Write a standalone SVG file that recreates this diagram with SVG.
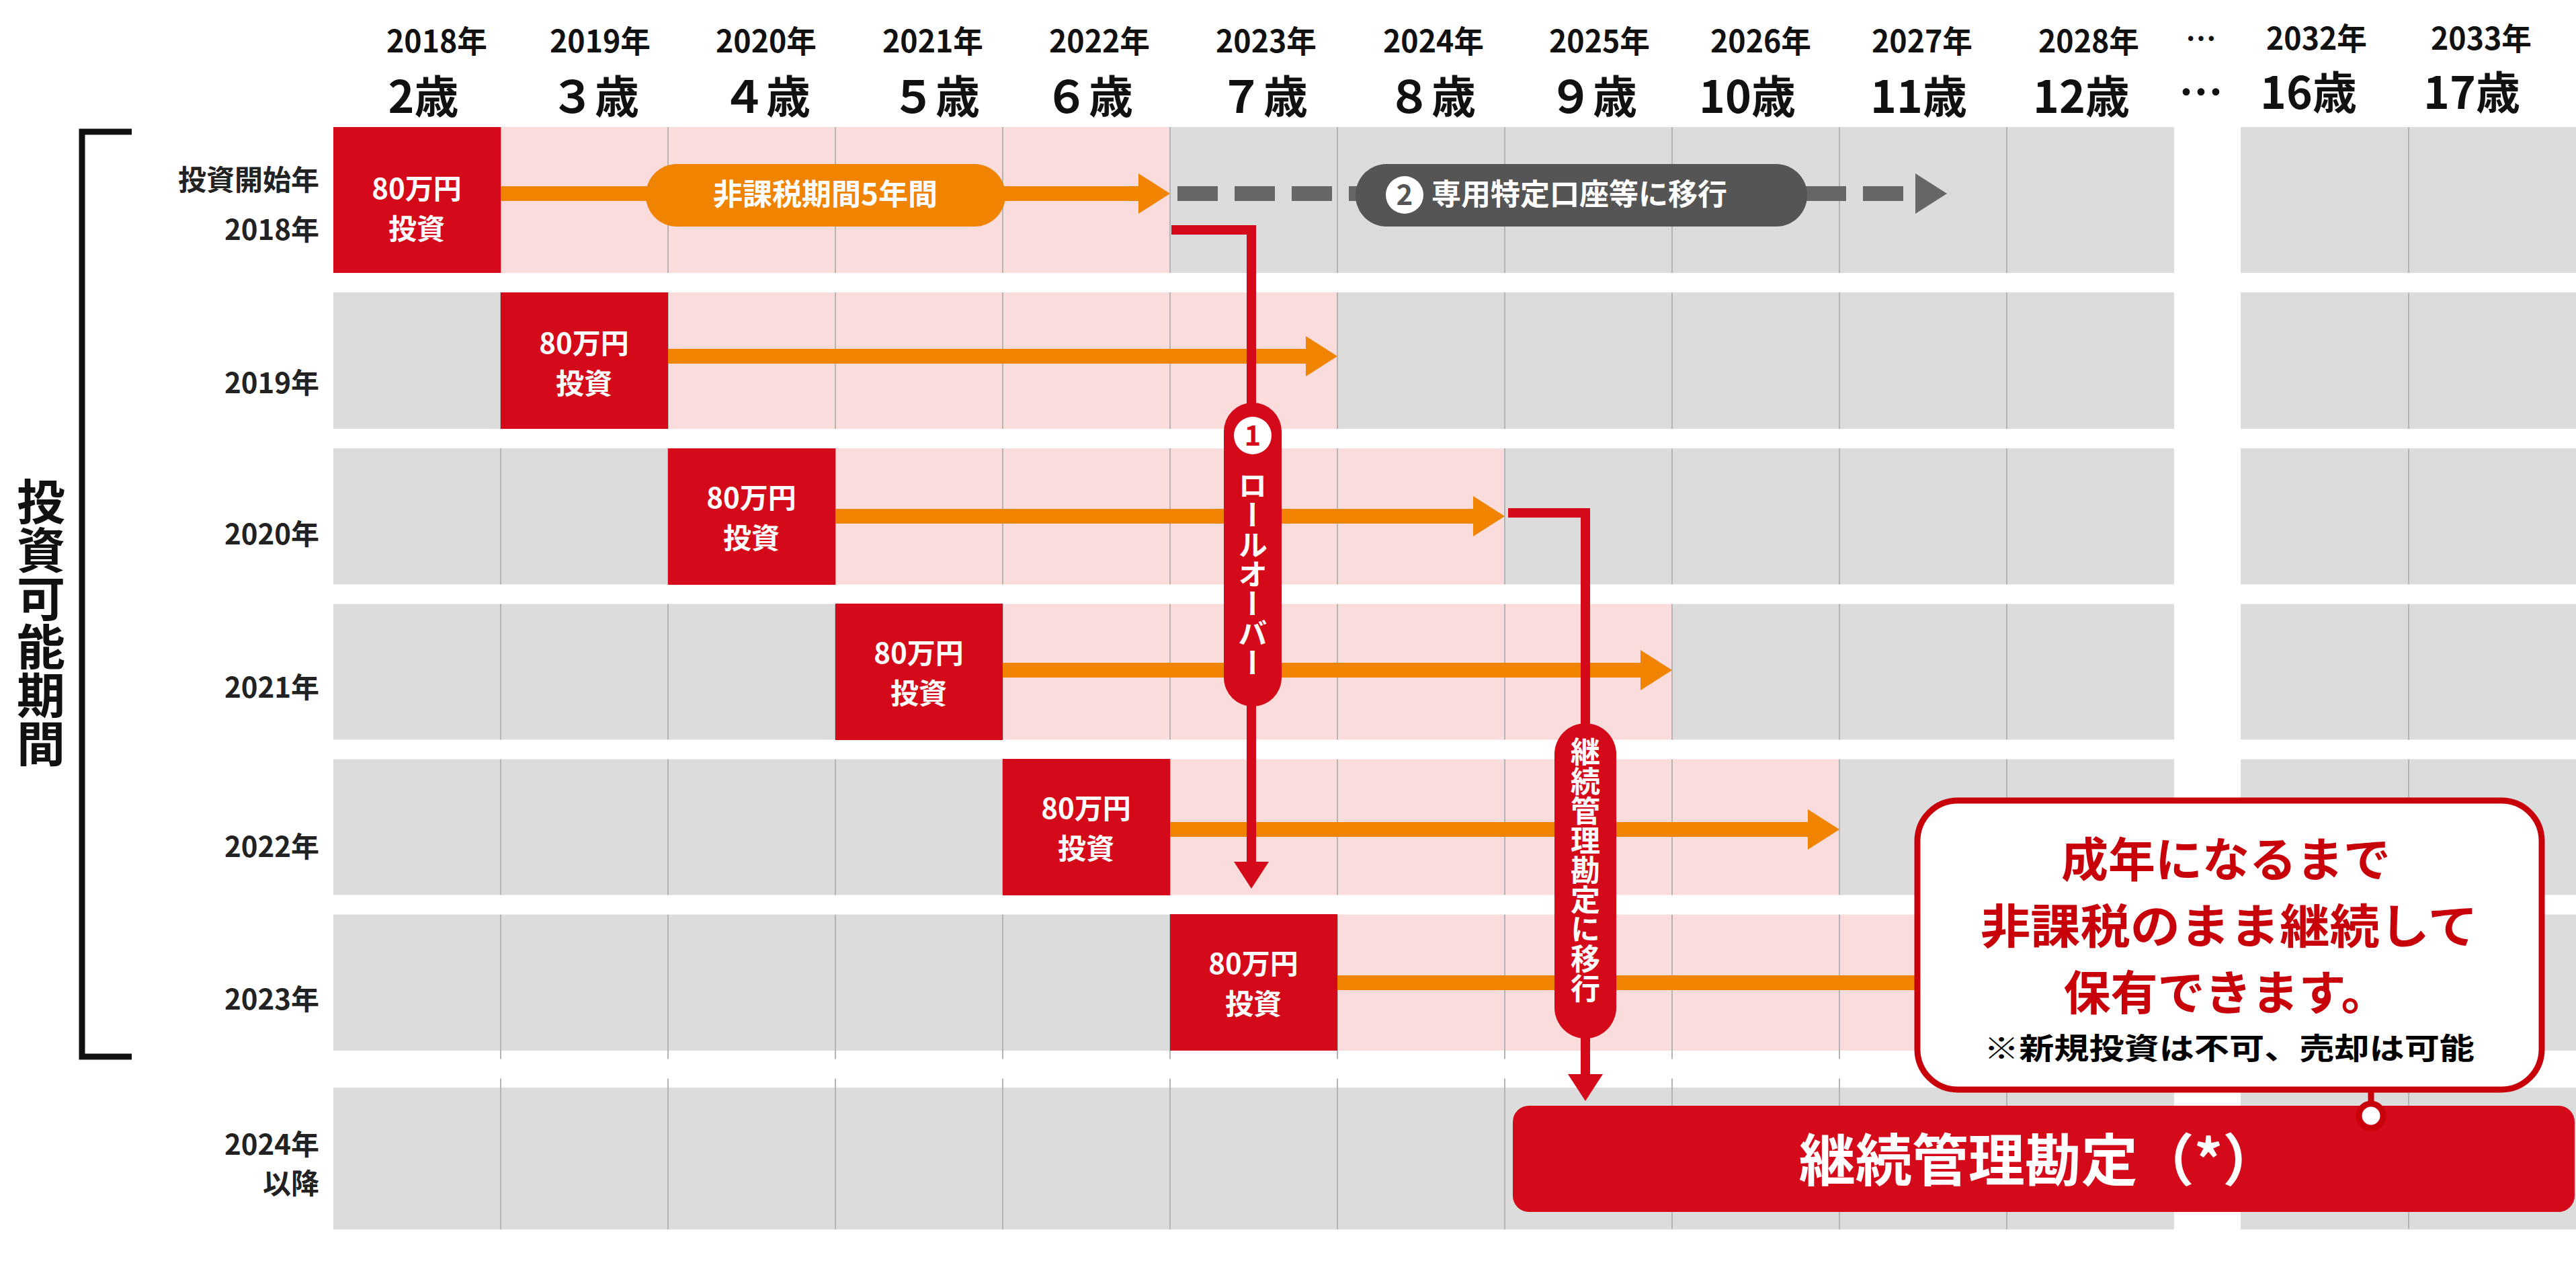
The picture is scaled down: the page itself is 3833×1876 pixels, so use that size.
<svg xmlns="http://www.w3.org/2000/svg" width="3833" height="1876" viewBox="0 0 3833 1876">
<style>
text{font-family:"Noto Sans CJK JP","Liberation Sans",sans-serif;font-weight:bold}
.g{fill:#dcdcdc}.p{fill:#fadcdc}.r{fill:#d40a1a}
.vl{stroke:#b4b4b4;stroke-width:2}
.yr{font-size:46px;fill:#111;text-anchor:middle}
.age{font-size:66px;fill:#111;text-anchor:middle}
.lb{font-size:42px;fill:#222;text-anchor:end}
.bx{font-size:42px;fill:#fff;text-anchor:middle}
.or{stroke:#f08300;stroke-width:22;fill:none}
.orh{fill:#f08300}
.rl{stroke:#d40a1a;stroke-width:14;fill:none}
.vt{writing-mode:vertical-rl;font-size:44px;fill:#fff}
</style>
<rect width="3833" height="1876" fill="#fff"/>
<g id="grid">
<g id="rows">
<rect class="g" x="496" y="189" width="2739" height="217"/><rect class="g" x="3334" y="189" width="499" height="217"/>
<rect class="g" x="496" y="435" width="2739" height="203"/><rect class="g" x="3334" y="435" width="499" height="203"/>
<rect class="g" x="496" y="667" width="2739" height="203"/><rect class="g" x="3334" y="667" width="499" height="203"/>
<rect class="g" x="496" y="898" width="2739" height="203"/><rect class="g" x="3334" y="898" width="499" height="203"/>
<rect class="g" x="496" y="1129" width="2739" height="203"/><rect class="g" x="3334" y="1129" width="499" height="203"/>
<rect class="g" x="496" y="1360" width="2739" height="203"/><rect class="g" x="3334" y="1360" width="499" height="203"/>
<rect class="g" x="496" y="1618" width="2739" height="211"/><rect class="g" x="3334" y="1618" width="499" height="211"/>
<rect class="p" x="745" y="189" width="996" height="217"/>
<rect class="p" x="994" y="435" width="996" height="203"/>
<rect class="p" x="1243" y="667" width="996" height="203"/>
<rect class="p" x="1492" y="898" width="996" height="203"/>
<rect class="p" x="1741" y="1129" width="996" height="203"/>
<rect class="p" x="1990" y="1360" width="996" height="203"/>
</g>
<g id="vlines">
<path class="vl" d="M745 189V1829M994 189V1829M1243 189V1829M1492 189V1829M1741 189V1829M1990 189V1829M2239 189V1829M2488 189V1829M2737 189V1829M2986 189V1829M3584 189V1829"/>
<path stroke="#fff" stroke-width="29" d="M496 420.5H3833M496 652.5H3833M496 884H3833M496 1115H3833M496 1346H3833M496 1590H3833"/>
</g>
</g>
<g id="header">
<text class="yr" x="650" y="78" textLength="150" lengthAdjust="spacingAndGlyphs">2018年</text><text class="yr" x="893" y="78" textLength="150" lengthAdjust="spacingAndGlyphs">2019年</text><text class="yr" x="1140" y="78" textLength="150" lengthAdjust="spacingAndGlyphs">2020年</text><text class="yr" x="1388" y="78" textLength="150" lengthAdjust="spacingAndGlyphs">2021年</text><text class="yr" x="1636" y="78" textLength="150" lengthAdjust="spacingAndGlyphs">2022年</text><text class="yr" x="1884" y="78" textLength="150" lengthAdjust="spacingAndGlyphs">2023年</text><text class="yr" x="2133" y="78" textLength="150" lengthAdjust="spacingAndGlyphs">2024年</text><text class="yr" x="2380" y="78" textLength="150" lengthAdjust="spacingAndGlyphs">2025年</text><text class="yr" x="2620" y="78" textLength="150" lengthAdjust="spacingAndGlyphs">2026年</text><text class="yr" x="2860" y="78" textLength="150" lengthAdjust="spacingAndGlyphs">2027年</text><text class="yr" x="3108" y="78" textLength="150" lengthAdjust="spacingAndGlyphs">2028年</text><text class="yr" x="3447" y="74" textLength="150" lengthAdjust="spacingAndGlyphs">2032年</text><text class="yr" x="3692" y="74" textLength="150" lengthAdjust="spacingAndGlyphs">2033年</text>
<text class="yr" x="3275" y="74">…</text>
<text class="age" x="630" y="168">2歳</text><text class="age" x="885" y="168">３歳</text><text class="age" x="1140" y="168">４歳</text><text class="age" x="1392" y="168">５歳</text><text class="age" x="1620" y="168">６歳</text><text class="age" x="1880" y="168">７歳</text><text class="age" x="2130" y="168">８歳</text><text class="age" x="2370" y="168">９歳</text><text class="age" x="2600" y="168">10歳</text><text class="age" x="2855" y="168">11歳</text><text class="age" x="3097" y="168">12歳</text><text class="age" x="3275" y="162">…</text><text class="age" x="3435" y="162">16歳</text><text class="age" x="3678" y="162">17歳</text>
</g>
<g id="labels">
<path d="M196 196H122V1572H196" stroke="#111" stroke-width="9" fill="none"/>
<text x="61" y="710" style="writing-mode:vertical-rl;font-size:72px;fill:#111">投資可能期間</text>
<text class="lb" x="475" y="283">投資開始年</text>
<text class="lb" x="475" y="357">2018年</text>
<text class="lb" x="475" y="585">2019年</text>
<text class="lb" x="475" y="810">2020年</text>
<text class="lb" x="475" y="1038">2021年</text>
<text class="lb" x="475" y="1275">2022年</text>
<text class="lb" x="475" y="1502">2023年</text>
<text class="lb" x="475" y="1718">2024年</text>
<text class="lb" x="475" y="1776">以降</text>
</g>
<g id="boxes">
<g id="b2018"><rect class="r" x="496" y="189" width="249" height="217"/><text class="bx" x="620" y="296">80万円</text><text class="bx" x="620" y="356">投資</text></g>
<g id="b2019"><rect class="r" x="745" y="435" width="249" height="203"/><text class="bx" x="869" y="526">80万円</text><text class="bx" x="869" y="586">投資</text></g>
<g id="b2020"><rect class="r" x="994" y="667" width="249" height="203"/><text class="bx" x="1118" y="756">80万円</text><text class="bx" x="1118" y="816">投資</text></g>
<g id="b2021"><rect class="r" x="1243" y="898" width="249" height="203"/><text class="bx" x="1367" y="987">80万円</text><text class="bx" x="1367" y="1047">投資</text></g>
<g id="b2022"><rect class="r" x="1492" y="1129" width="249" height="203"/><text class="bx" x="1616" y="1218">80万円</text><text class="bx" x="1616" y="1278">投資</text></g>
<g id="b2023"><rect class="r" x="1741" y="1360" width="249" height="203"/><text class="bx" x="1865" y="1449">80万円</text><text class="bx" x="1865" y="1509">投資</text></g>
</g>
<g id="connectors">
<path class="or" d="M745 288H1700"/><polygon class="orh" points="1694,258 1741,288 1694,318"/>
<path class="or" d="M994 530H1950"/><polygon class="orh" points="1943,500 1990,530 1943,560"/>
<path class="or" d="M1243 768H2199"/><polygon class="orh" points="2192,738 2239,768 2192,798"/>
<path class="or" d="M1492 997H2448"/><polygon class="orh" points="2441,967 2488,997 2441,1027"/>
<path class="or" d="M1741 1234H2697"/><polygon class="orh" points="2690,1204 2737,1234 2690,1264"/>
<path class="or" d="M1990 1462H2900"/>
<path d="M1752 288H2850" stroke="#666" stroke-width="22" stroke-dasharray="60 25" fill="none"/>
<polygon fill="#666" points="2850,258 2897,288 2850,318"/>
<path class="rl" d="M1743 342H1862V1290"/><polygon class="r" points="1836,1282 1888,1282 1862,1322"/>
<path class="rl" d="M2244 763H2359V1605"/><polygon class="r" points="2333,1598 2385,1598 2359,1638"/>
</g>
<g id="pill1"><rect x="961" y="244" width="535" height="93" rx="46" fill="#f08300"/><text x="1228" y="305" text-anchor="middle" font-size="44" fill="#fff">非課税期間5年間</text></g>
<g id="pill2"><rect x="2017" y="244" width="672" height="93" rx="46" fill="#555"/><circle cx="2090" cy="290" r="28" fill="#fff"/><text x="2090" y="305" text-anchor="middle" font-size="42" fill="#555">2</text><text x="2130" y="305" font-size="44" fill="#fff">専用特定口座等に移行</text></g>
<g id="pill3"><rect x="1821" y="599" width="86" height="452" rx="43" fill="#d40a1a"/><circle cx="1864" cy="648" r="28" fill="#fff"/><text x="1864" y="663" text-anchor="middle" font-size="42" fill="#d40a1a">1</text><text class="vt" x="1864" y="700">ロールオーバー</text></g>
<g id="pill4"><rect x="2313" y="1076" width="92" height="469" rx="46" fill="#d40a1a"/><text class="vt" x="2359" y="1096">継続管理勘定に移行</text></g>
<g id="bar"><rect x="2251" y="1645" width="1580" height="158" rx="24" fill="#d40a1a"/><text x="3034" y="1757" text-anchor="middle" font-size="84" fill="#fff">継続管理勘定（*）</text></g>
<g id="callout">
<rect x="2853" y="1191" width="929" height="430" rx="60" fill="#fff" stroke="#c8000a" stroke-width="9"/>
<path d="M3528 1625V1645" stroke="#c8000a" stroke-width="9"/>
<circle cx="3528" cy="1660" r="18" fill="#fff" stroke="#c8000a" stroke-width="9"/>
<text x="3312" y="1305" text-anchor="middle" font-size="70" fill="#c8000a">成年になるまで</text>
<text x="3317" y="1404" text-anchor="middle" font-size="70" fill="#c8000a" textLength="740" lengthAdjust="spacingAndGlyphs">非課税のまま継続して</text>
<text x="3312" y="1503" text-anchor="middle" font-size="70" fill="#c8000a">保有できます。</text>
<text x="3317" y="1576" text-anchor="middle" font-size="44" fill="#000" textLength="730" lengthAdjust="spacingAndGlyphs">※新規投資は不可、売却は可能</text>
</g>
</svg>
